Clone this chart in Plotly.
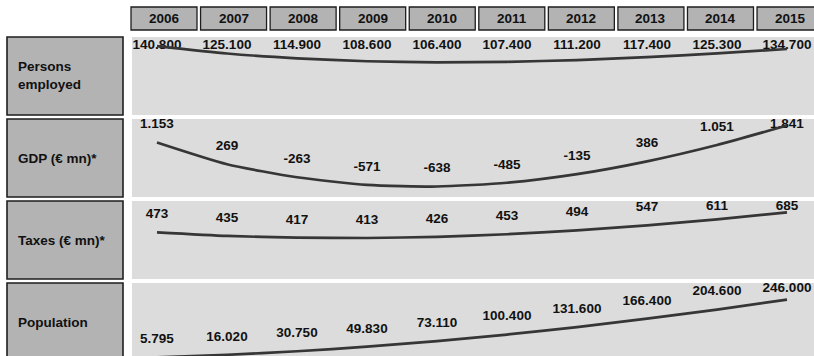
import plotly.graph_objects as go

# ---- data -------------------------------------------------------------
years = [2006, 2007, 2008, 2009, 2010, 2011, 2012, 2013, 2014, 2015]
row_labels = ["Persons<br>employed", "GDP (€ mn)*", "Taxes (€ mn)*", "Population"]
persons_employed = [140800, 125100, 114900, 108600, 106400, 107400, 111200, 117400, 125300, 134700]
gdp_mn = [1153, 269, -263, -571, -638, -485, -135, 386, 1051, 1841]
taxes_mn = [473, 435, 417, 413, 426, 453, 494, 547, 611, 685]
population = [5795, 16020, 30750, 49830, 73110, 100400, 131600, 166400, 204600, 246000]

series = [persons_employed, gdp_mn, taxes_mn, population]

# ---- layout constants (pixels) ----------------------------------------
W, H = 814, 356
FONT = "Liberation Sans, Arial, sans-serif"
FSIZE = 13.5
BAND = "#dcdcdc"
BOX = "#b3b3b3"
EDGE = "#1e1e1e"
LINE = "#363636"

# vertical band of each row (top px, bottom px) and its value range
bands = [(37, 115), (119, 197), (201, 279), (283, 356)]
ranges = [(-5745, 160213), (-1065, 2106), (-21, 805), (11000, 315167)]
label_cap = [8.5, 5.5, 6, 6]      # px below band top where labels stop rising
label_lift = 17.5                  # px between a point and its label

x_left_px = 132
x_first_px = 157
x_step_px = 70
x_lo = years[0] - (x_first_px - x_left_px) / x_step_px
x_hi = years[0] + (W - x_first_px) / x_step_px


def py(px):
    return 1 - px / H


def fmt(v):
    return f"{v:,}".replace(",", ".")


fig = go.Figure()
layout_axes = {}

for i, vals in enumerate(series):
    top, bot = bands[i]
    lo, hi = ranges[i]
    units_per_px = (hi - lo) / (min(bot, H) - top)
    cap = hi - label_cap[i] * units_per_px
    label_y = [min(v + label_lift * units_per_px, cap) for v in vals]
    yname = "y" if i == 0 else f"y{i + 1}"
    ykey = "yaxis" if i == 0 else f"yaxis{i + 1}"

    fig.add_trace(go.Scatter(
        x=years, y=label_y, mode="text", text=[f"<b>{fmt(v)}</b>" for v in vals],
        textposition="middle center", cliponaxis=False,
        textfont=dict(family=FONT, size=FSIZE, color="#111111"),
        xaxis="x", yaxis=yname, hoverinfo="skip", showlegend=False,
    ))
    fig.add_trace(go.Scatter(
        x=years, y=vals, mode="lines",
        line=dict(color=LINE, width=2.7, shape="spline", smoothing=0.6),
        xaxis="x", yaxis=yname, showlegend=False,
    ))

    layout_axes[ykey] = dict(
        domain=[py(min(bot, H)), py(top)], range=[lo, hi],
        showgrid=False, zeroline=False, showticklabels=False, ticks="",
        showline=False, fixedrange=True,
    )

    # row label box
    fig.add_shape(type="rect", xref="paper", yref="paper",
                  x0=7 / W, x1=123 / W, y0=py(top + 78), y1=py(top),
                  fillcolor=BOX, line=dict(color=EDGE, width=1.6), layer="above")
    fig.add_annotation(xref="paper", yref="paper", x=16 / W, y=py(top + 39),
                       xanchor="left", yanchor="middle", align="left",
                       text=f"<b>{row_labels[i]}</b>", showarrow=False,
                       font=dict(family=FONT, size=FSIZE, color="#111111"))

# year header boxes
head_first_px, head_step_px = 164, 69.56
for j, yr in enumerate(years):
    cx = head_first_px + j * head_step_px
    fig.add_shape(type="rect", xref="paper", yref="paper",
                  x0=(cx - 33) / W, x1=(cx + 33) / W, y0=py(30), y1=py(7),
                  fillcolor=BOX, line=dict(color=EDGE, width=1.3), layer="above")
    fig.add_annotation(xref="paper", yref="paper", x=cx / W, y=py(18.5),
                       xanchor="center", yanchor="middle",
                       text=f"<b>{yr}</b>", showarrow=False,
                       font=dict(family=FONT, size=FSIZE, color="#111111"))

fig.update_layout(
    width=W, height=H,
    margin=dict(l=0, r=0, t=0, b=0),
    paper_bgcolor="white", plot_bgcolor=BAND,
    xaxis=dict(domain=[x_left_px / W, 1], range=[x_lo, x_hi],
               showgrid=False, zeroline=False, showticklabels=False,
               ticks="", showline=False, fixedrange=True),
    showlegend=False,
    **layout_axes,
)

fig.write_html("out.html")
